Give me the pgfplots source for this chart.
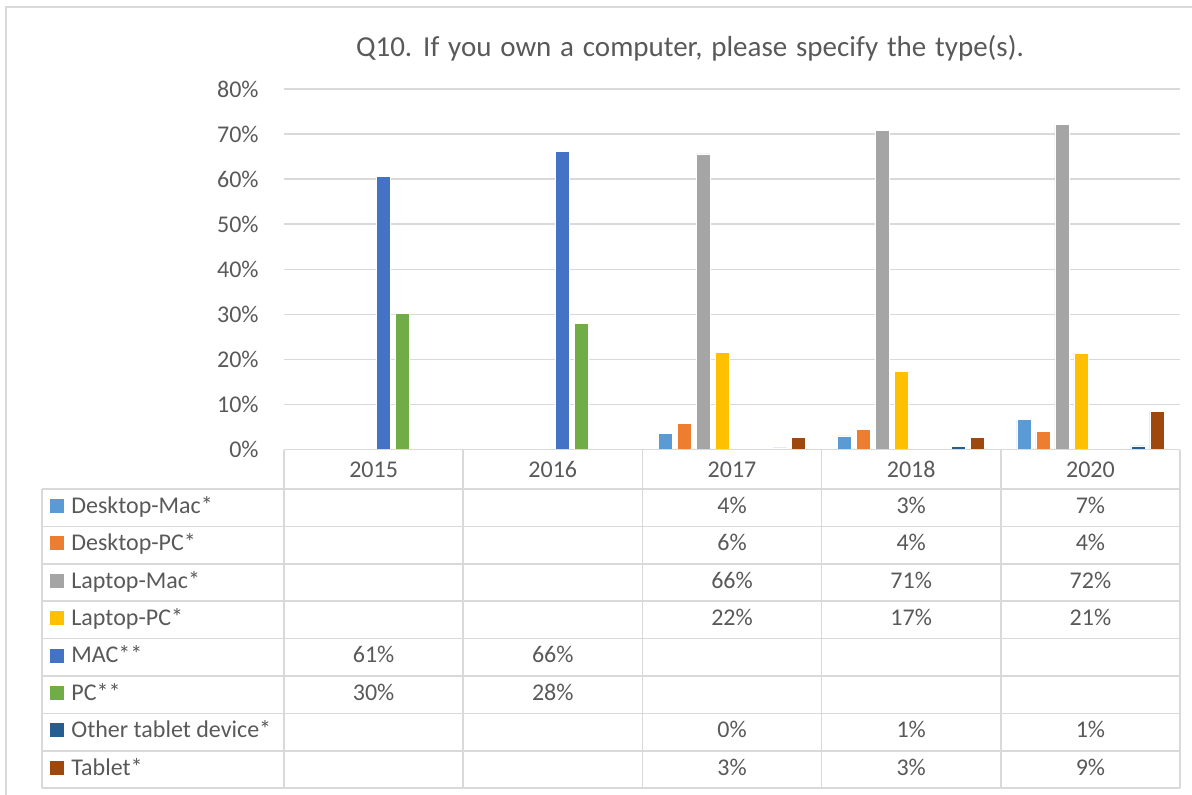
\documentclass[border=0pt]{standalone}
\usepackage{pgfplots}
\pgfplotsset{compat=1.18}
\usepackage{fontspec}
\setmainfont{Carlito}
\definecolor{txt}{HTML}{595959}
\definecolor{grd}{HTML}{D9D9D9}
\definecolor{cDM}{HTML}{5B9BD5}
\definecolor{cDP}{HTML}{ED7D31}
\definecolor{cLM}{HTML}{A5A5A5}
\definecolor{cLP}{HTML}{FFC000}
\definecolor{cMAC}{HTML}{4472C4}
\definecolor{cPC}{HTML}{70AD47}
\definecolor{cOT}{HTML}{255E91}
\definecolor{cTB}{HTML}{9E480E}
\newcommand{\f}{\fontsize{12}{14}\selectfont}

\begin{document}
\begin{tikzpicture}
\useasboundingbox (0,0) rectangle (596pt,-397pt);
\begin{axis}[
  at={(142pt,-224.75pt)}, anchor=south west,
  scale only axis, width=448pt, height=180.25pt,
  xmin=-0.5, xmax=4.5, ymin=0, ymax=80,
  ybar=2.5pt, bar width=7pt,
  xtick=\empty, ytick={0,10,...,80},
  /pgf/number format/assume math mode=true,
  yticklabel={\pgfmathprintnumber{\tick}\%},
  yticklabel style={font=\f, text=txt, inner sep=0pt, xshift=-12.5pt},
  ymajorgrids, grid style={grd, line width=0.75pt},
  major tick length=0pt,
  axis line style={draw=none},
  every axis plot/.append style={draw=white, line width=0.3pt},
]
\addplot[fill=cDM] coordinates {(2,3.6) (3,3.0) (4,6.7)};
\addplot[fill=cDP] coordinates {(2,5.8) (3,4.4) (4,4.0)};
\addplot[fill=cLM] coordinates {(2,65.6) (3,70.8) (4,72.2)};
\addplot[fill=cLP] coordinates {(2,21.6) (3,17.3) (4,21.4)};
\addplot[fill=cMAC] coordinates {(0,60.6) (1,66.2)};
\addplot[fill=cPC] coordinates {(0,30.2) (1,27.9)};
\addplot[fill=cOT] coordinates {(2,0.35) (3,0.7) (4,0.8)};
\addplot[fill=cTB] coordinates {(2,2.6) (3,2.6) (4,8.5)};
\end{axis}

\begin{scope}[x=0.5pt, y=-0.5pt]
  % outer chart border
  \draw[grd, line width=0.75pt] (6,810) -- (6,7) -- (1210,7);
  % title
  \node[anchor=base, text=txt, inner sep=0pt] at (690,56)
    {\fontsize{14.5}{17}\selectfont\spaceskip=4.4pt\relax Q10. If you own a computer, please specify the type(s).};
  % data table grid
  \begin{scope}[grd, line width=0.75pt]
    \draw (284,449.5) -- (1180,449.5);
    \foreach \k in {0,...,8} \draw (42,489+37.4*\k) -- (1180,489+37.4*\k);
    \draw (42,489) -- (42,788.2);
    \foreach \k in {0,...,5} \draw (284+179.2*\k,449.5) -- (284+179.2*\k,788.2);
  \end{scope}
  % year headers
  \foreach \yr [count=\i from 0] in {2015,2016,2017,2018,2020}
    \node[anchor=base, text=txt, inner sep=0pt, font=\f] at (373.6+179.2*\i,477) {\yr};
  % row labels with keys
  \foreach \lab/\col [count=\r from 0] in {Desktop-Mac*/cDM, Desktop-PC*/cDP, Laptop-Mac*/cLM,
      Laptop-PC*/cLP, MAC**/cMAC, PC**/cPC, Other tablet device*/cOT, Tablet*/cTB} {
    \fill[\col] (50,499+37.4*\r) rectangle (64,513+37.4*\r);
    \node[anchor=base west, text=txt, inner sep=0pt, font=\f] at (71,513.3+37.4*\r) {\lab};
  }
  % table values
  \foreach \c/\r/\v in {0/4/61, 0/5/30, 1/4/66, 1/5/28,
      2/0/4, 2/1/6, 2/2/66, 2/3/22, 2/6/0, 2/7/3,
      3/0/3, 3/1/4, 3/2/71, 3/3/17, 3/6/1, 3/7/3,
      4/0/7, 4/1/4, 4/2/72, 4/3/21, 4/6/1, 4/7/9}
    \node[anchor=base, text=txt, inner sep=0pt, font=\f] at (373.6+179.2*\c,513.3+37.4*\r) {\v\%};
\end{scope}
\end{tikzpicture}
\end{document}
